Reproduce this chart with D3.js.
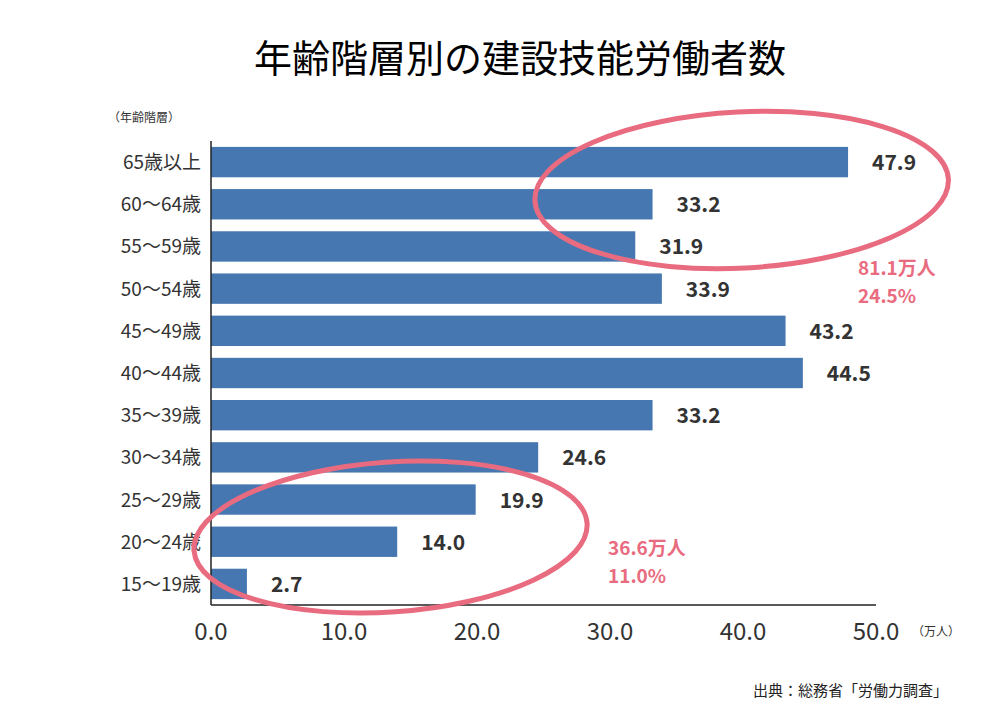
<!DOCTYPE html>
<html><head><meta charset="utf-8">
<script src="https://cdn.jsdelivr.net/npm/d3@7/dist/d3.min.js"></script>
<style>body{margin:0;background:#fff}text{font-family:"Noto Sans CJK JP","Noto Sans",sans-serif}</style>
</head><body><div id="chart"></div>
<script>
var ages = ["65歳以上","60～64歳","55～59歳","50～54歳","45～49歳","40～44歳","35～39歳","30～34歳","25～29歳","20～24歳","15～19歳"];
var workers = [47.9, 33.2, 31.9, 33.9, 43.2, 44.5, 33.2, 24.6, 19.9, 14.0, 2.7];
var xTicks = [0, 10, 20, 30, 40, 50];

var svg = d3.select("#chart").append("svg").attr("width", 1000).attr("height", 707);
var pink = "#e96b80";

var x = d3.scaleLinear().domain([0, 50]).range([211, 876]);
var y = d3.scaleBand().domain(ages).range([141, 605]).paddingInner(0.28).paddingOuter(0.14);

svg.append("text").attr("x", 520).attr("y", 72).attr("text-anchor", "middle")
  .attr("font-size", 38).attr("font-weight", 400).text("年齢階層別の建設技能労働者数");
svg.append("text").attr("x", 108).attr("y", 122).attr("font-size", 12).attr("fill", "#333").text("（年齢階層）");

svg.selectAll(".bar").data(workers).enter().append("rect")
  .attr("x", x(0)).attr("y", (d, i) => y(ages[i]))
  .attr("width", d => x(d) - x(0)).attr("height", y.bandwidth())
  .attr("fill", "#4677b0");

svg.selectAll(".val").data(workers).enter().append("text")
  .attr("x", d => x(d) + 24).attr("y", (d, i) => y(ages[i]) + y.bandwidth() / 2 + 8)
  .attr("font-size", 21).attr("font-weight", 600).attr("fill", "#333")
  .text(d => d.toFixed(1));

svg.selectAll(".cat").data(ages).enter().append("text")
  .attr("x", 201).attr("y", d => y(d) + y.bandwidth() / 2 + 7)
  .attr("text-anchor", "end").attr("font-size", 19).attr("fill", "#333").text(d => d);

svg.append("line").attr("x1", x(0)).attr("x2", x(0)).attr("y1", 141).attr("y2", 605).attr("stroke", "#222").attr("stroke-width", 1.5);
svg.append("line").attr("x1", x(0)).attr("x2", x(50)).attr("y1", 605).attr("y2", 605).attr("stroke", "#222").attr("stroke-width", 1.5);

svg.selectAll(".xt").data(xTicks).enter().append("text")
  .attr("x", d => x(d)).attr("y", 640).attr("text-anchor", "middle")
  .attr("font-size", 24).attr("fill", "#333").text(d => d.toFixed(1));
svg.append("text").attr("x", 912).attr("y", 636).attr("font-size", 12).attr("fill", "#333").text("（万人）");

// highlight ellipses
var c1x = x(39.9), c1y = 190;
svg.append("ellipse").attr("cx", c1x).attr("cy", c1y).attr("rx", 207).attr("ry", 78)
  .attr("transform", `rotate(-3 ${c1x} ${c1y})`)
  .attr("fill", "none").attr("stroke", pink).attr("stroke-width", 5);
var c2x = x(13.5), c2y = 537;
svg.append("ellipse").attr("cx", c2x).attr("cy", c2y).attr("rx", 197).attr("ry", 75)
  .attr("transform", `rotate(-4 ${c2x} ${c2y})`)
  .attr("fill", "none").attr("stroke", pink).attr("stroke-width", 5);

svg.append("text").attr("x", 858).attr("y", 275).attr("font-size", 19).attr("font-weight", "bold").attr("fill", pink).text("81.1万人");
svg.append("text").attr("x", 858).attr("y", 303).attr("font-size", 19).attr("font-weight", "bold").attr("fill", pink).text("24.5%");
svg.append("text").attr("x", 608).attr("y", 555).attr("font-size", 19).attr("font-weight", "bold").attr("fill", pink).text("36.6万人");
svg.append("text").attr("x", 608).attr("y", 583).attr("font-size", 19).attr("font-weight", "bold").attr("fill", pink).text("11.0%");

svg.append("text").attr("x", 948).attr("y", 696).attr("text-anchor", "end").attr("font-size", 15).attr("fill", "#222").text("出典：総務省「労働力調査」");
</script></body></html>
